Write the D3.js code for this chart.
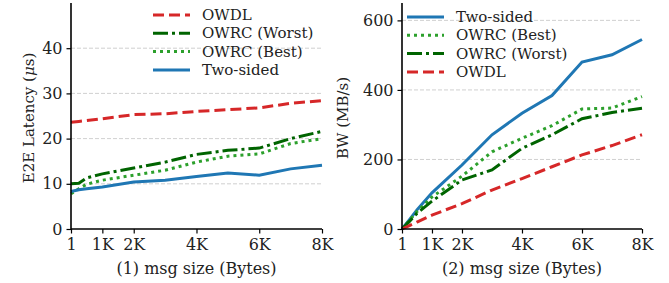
<!DOCTYPE html>
<html lang="en">
<head>
<meta charset="UTF-8">
<title>Latency and bandwidth vs message size</title>
<script src="https://d3js.org/d3.v7.min.js"></script>
<style>
    body { margin: 0; background: #fff; }
    svg text { font-family: "DejaVu Serif", serif; fill: #222; }
</style>
</head>
<body>
<svg id="chart" width="669" height="283"></svg>
<script>
// message sizes in bytes
const sizes = [1, 256, 512, 1024, 2048, 3072, 4096, 5120, 6144, 7168, 8192];
const xTicks = [1, 1024, 2048, 4096, 6144, 8192];
const xTickLabels = ["1", "1K", "2K", "4K", "6K", "8K"];

// (1) E2E latency, us
const latOWDL   = [23.6, 23.8, 24.0, 24.4, 25.3, 25.5, 26.0, 26.4, 26.8, 27.8, 28.4];
const latWorst  = [10.0, 10.1, 11.3, 12.2, 13.5, 14.8, 16.5, 17.4, 17.9, 20.0, 21.6];
const latBest   = [7.8, 8.9, 9.9, 10.8, 11.9, 13.0, 14.8, 16.1, 16.6, 18.9, 20.0];
const latTwo    = [8.3, 8.7, 8.9, 9.3, 10.4, 10.8, 11.6, 12.4, 11.9, 13.3, 14.1];
const latTicks  = [0, 10, 20, 30, 40];

// (2) bandwidth, MB/s
const bwTwo     = [0, 27, 55, 104, 184, 271, 333, 384, 480, 501, 545];
const bwBest    = [0, 25, 50, 92, 152, 222, 261, 297, 345, 348, 381];
const bwWorst   = [0, 22, 45, 80, 141, 170, 232, 271, 317, 335, 347];
const bwOWDL    = [0, 10, 20, 40, 73, 112, 145, 179, 213, 240, 271];
const bwTicks   = [0, 200, 400, 600];

const styles = {
    "OWDL":         { color: "#d62728", dash: "11,5" },
    "OWRC (Worst)": { color: "#006400", dash: "15,4,3,4" },
    "OWRC (Best)":  { color: "#2ca02c", dash: "3,4" },
    "Two-sided":    { color: "#1f77b4", dash: null }
};

const svg = d3.select("#chart");

function panel(opts) {
    const g = svg.append("g");
    const x = d3.scaleLinear().domain([1, 8192]).range([opts.left, opts.right]);
    const y = d3.scaleLinear().domain([0, opts.ymax]).range([229, 3]);

    // grid
    g.selectAll(".grid").data(opts.yTicks.filter(d => d > 0)).enter()
        .append("line")
        .attr("x1", opts.left).attr("x2", opts.right)
        .attr("y1", d => y(d)).attr("y2", d => y(d))
        .attr("stroke", "#c4c4c4").attr("stroke-width", 0.8)
        .attr("stroke-dasharray", "4,2");

    // lines
    const line = d3.line().x((d, i) => x(sizes[i])).y(d => y(d));
    opts.series.forEach(s => {
        const st = styles[s.name];
        g.append("path")
            .attr("d", line(s.values))
            .attr("fill", "none")
            .attr("stroke", st.color)
            .attr("stroke-width", 3)
            .attr("stroke-dasharray", st.dash);
    });

    // axes
    const xa = g.append("g").attr("transform", "translate(0,229)")
        .call(d3.axisBottom(x).tickValues(xTicks)
            .tickFormat((d, i) => xTickLabels[i]).tickSize(4.5).tickPadding(5));
    const ya = g.append("g").attr("transform", `translate(${opts.left},0)`)
        .call(d3.axisLeft(y).tickValues(opts.yTicks).tickSize(4.5).tickPadding(4));
    [xa, ya].forEach(a => {
        a.select(".domain").attr("stroke", "#000").attr("stroke-width", 1.6);
        a.selectAll(".tick line").attr("stroke", "#000").attr("stroke-width", 1.2);
        a.selectAll(".tick text").style("font-size", "16px")
            .style("font-family", "'DejaVu Serif', serif").attr("fill", "#222");
    });
    ya.select(".domain").attr("d", `M-0,229V3`);
    xa.select(".domain").attr("d", `M${opts.left},0H${opts.right}`);

    // labels
    g.append("text")
        .attr("x", (opts.left + opts.right) / 2).attr("y", 274)
        .attr("text-anchor", "middle").style("font-size", "16px")
        .text(opts.xlabel);
    const yl = g.append("text")
        .attr("transform", `translate(${opts.ylabelX},118) rotate(-90)`)
        .attr("text-anchor", "middle").style("font-size", "15px");
    opts.ylabel(yl);

    // legend
    opts.series.forEach((s, i) => {
        const st = styles[s.name];
        const ly = opts.legendY + i * 18.3;
        g.append("line")
            .attr("x1", opts.legendX).attr("x2", opts.legendX + 37)
            .attr("y1", ly).attr("y2", ly)
            .attr("stroke", st.color).attr("stroke-width", 3)
            .attr("stroke-dasharray", st.dash);
        g.append("text")
            .attr("x", opts.legendX + 49).attr("y", ly + 5)
            .style("font-size", "15px")
            .text(s.name);
    });
}

panel({
    left: 71, right: 322, ymax: 50, yTicks: latTicks,
    xlabel: "(1) msg size (Bytes)", ylabelX: 34,
    ylabel: t => {
        t.append("tspan").text("E2E Latency (");
        t.append("tspan").style("font-style", "italic").text("\u03bc");
        t.append("tspan").text("s)");
    },
    legendX: 153, legendY: 15,
    series: [
        { name: "OWDL", values: latOWDL },
        { name: "OWRC (Worst)", values: latWorst },
        { name: "OWRC (Best)", values: latBest },
        { name: "Two-sided", values: latTwo }
    ]
});

panel({
    left: 402, right: 642, ymax: 650, yTicks: bwTicks,
    xlabel: "(2) msg size (Bytes)", ylabelX: 348,
    ylabel: t => t.text("BW (MB/s)"),
    legendX: 407, legendY: 17,
    series: [
        { name: "Two-sided", values: bwTwo },
        { name: "OWRC (Best)", values: bwBest },
        { name: "OWRC (Worst)", values: bwWorst },
        { name: "OWDL", values: bwOWDL }
    ]
});
</script>
</body>
</html>
